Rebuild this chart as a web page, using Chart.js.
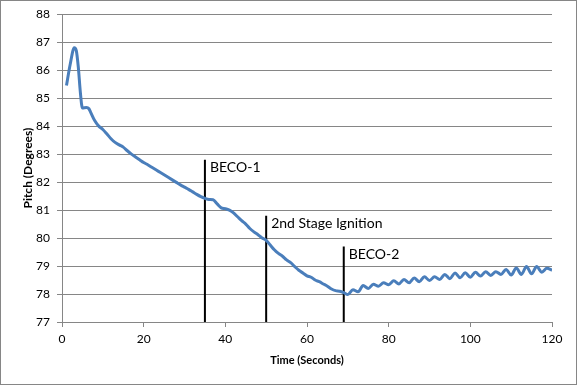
<!DOCTYPE html>
<html>
<head>
<meta charset="utf-8">
<script src="https://cdn.jsdelivr.net/npm/chart.js@4"></script>
<style>
    html, body { margin: 0; padding: 0; background: #fff; }
    #wrap { position: absolute; left: 0; top: 0; width: 577px; height: 385px; }
</style>
</head>
<body>
<div id="wrap"><canvas id="chart" width="577" height="385"></canvas></div>
<script>
// pitch trace (seconds, degrees)
const timeSec = [1.1, 2, 3, 3.5, 4, 4.5, 5, 6, 6.6, 7, 8, 9, 10, 11, 12, 13, 14, 15, 16, 17, 18, 19, 20,
    21, 22, 23, 24, 25, 26, 27, 28, 29, 30, 31, 32, 33, 34, 35, 36, 37, 38, 39, 40, 41, 42, 43, 44, 45,
    46, 47, 48, 49, 50, 51, 52, 53, 54, 55, 56, 57, 58, 59, 60, 61, 62, 63, 64, 65, 66, 67, 68, 69, 70,
    71.25, 72.5, 73.75, 75, 76.25, 77.5, 78.75, 80, 81.25, 82.5, 83.75, 85, 86.25, 87.5, 88.75, 90,
    91.25, 92.5, 93.75, 95, 96.25, 97.5, 98.75, 100, 101.25, 102.5, 103.75, 105, 106.25, 107.5, 108.75,
    110, 111.25, 112.5, 113.75, 115, 116.25, 117.5, 118.75, 120];
const pitchDeg = [85.45, 86.2, 86.8, 86.7, 86.1, 85.2, 84.65, 84.67, 84.62, 84.5, 84.2, 84.0, 83.88,
    83.72, 83.55, 83.42, 83.33, 83.25, 83.12, 83.0, 82.9, 82.8, 82.7, 82.62, 82.53, 82.44, 82.35, 82.26,
    82.17, 82.08, 81.99, 81.9, 81.82, 81.74, 81.65, 81.56, 81.48, 81.42, 81.38, 81.37, 81.22, 81.08,
    81.05, 81.0, 80.9, 80.76, 80.62, 80.5, 80.34, 80.22, 80.12, 80.0, 79.92, 79.75, 79.58, 79.45, 79.35,
    79.22, 79.12, 78.98, 78.85, 78.75, 78.65, 78.6, 78.5, 78.44, 78.36, 78.28, 78.18, 78.12, 78.1, 78.05,
    77.98, 78.15, 78.08, 78.3, 78.2, 78.35, 78.28, 78.4, 78.33, 78.47, 78.36, 78.52, 78.4, 78.57, 78.44,
    78.62, 78.48, 78.62, 78.52, 78.7, 78.55, 78.75, 78.58, 78.76, 78.6, 78.78, 78.64, 78.8, 78.66, 78.8,
    78.7, 78.88, 78.68, 78.93, 78.7, 78.98, 78.72, 78.98, 78.78, 78.92, 78.85];

// event markers
const eventNames = ['BECO-1', '2nd Stage Ignition', 'BECO-2'];
const eventTimes = [35, 50, 69];
const eventTops = [82.8, 80.8, 79.7];

const xTicks = [0, 20, 40, 60, 80, 100, 120];
const yTicks = [77, 78, 79, 80, 81, 82, 83, 84, 85, 86, 87, 88];

const FONT = 'Lato, "Liberation Sans", sans-serif';

const pitchPoints = timeSec.map((t, i) => ({ x: t, y: pitchDeg[i] }));

const markerSets = eventTimes.map((t, i) => ({
    label: eventNames[i],
    data: [{ x: t, y: yTicks[0] }, { x: t, y: eventTops[i] }],
    borderColor: '#000',
    borderWidth: 2,
    pointRadius: 0,
    tension: 0
}));

const eventLabels = {
    id: 'eventLabels',
    afterDatasetsDraw(chart) {
        const ctx = chart.ctx;
        const xs = chart.scales.x, ys = chart.scales.y;
        ctx.save();
        ctx.font = '14px ' + FONT;
        ctx.fillStyle = '#000';
        ctx.textBaseline = 'top';
        ctx.textAlign = 'left';
        eventNames.forEach((name, i) => {
            ctx.fillText(name, xs.getPixelForValue(eventTimes[i]) + 5, ys.getPixelForValue(eventTops[i]) + 1);
        });
        ctx.restore();
    }
};

const outerBorder = {
    id: 'outerBorder',
    afterDraw(chart) {
        const ctx = chart.ctx;
        ctx.save();
        ctx.strokeStyle = '#868686';
        ctx.lineWidth = 1;
        ctx.strokeRect(0.5, 0.5, chart.width - 1, chart.height - 1);
        ctx.restore();
    }
};

new Chart(document.getElementById('chart'), {
    type: 'line',
    data: {
        datasets: [{
            label: 'Pitch',
            data: pitchPoints,
            borderColor: '#4a7ebb',
            borderWidth: 3,
            pointRadius: 0,
            tension: 0.4,
            cubicInterpolationMode: 'monotone'
        }].concat(markerSets)
    },
    options: {
        responsive: false,
        animation: false,
        layout: { padding: { top: 14, right: 25, left: 0, bottom: 0 } },
        plugins: { legend: { display: false }, tooltip: { enabled: false } },
        scales: {
            x: {
                type: 'linear',
                min: 0, max: 120,
                afterBuildTicks: s => { s.ticks = xTicks.map(v => ({ value: v })); },
                afterFit: s => { s.height = 63; },
                grid: { drawOnChartArea: false, drawTicks: true, tickLength: 5, color: '#868686' },
                border: { color: '#868686' },
                ticks: { color: '#000', padding: 5, font: { family: FONT, size: 12 }, maxRotation: 0 },
                title: { display: true, text: 'Time (Seconds)', color: '#000',
                    font: { family: FONT, size: 11, weight: 'bold' }, padding: { top: 0, bottom: 18 } }
            },
            y: {
                min: 77, max: 88,
                afterBuildTicks: s => { s.ticks = yTicks.map(v => ({ value: v })); },
                afterFit: s => { s.width = 62; },
                grid: { color: '#868686', tickLength: 5 },
                border: { color: '#868686' },
                ticks: { color: '#000', padding: 7, font: { family: FONT, size: 12 } },
                title: { display: true, text: 'Pitch (Degrees)', color: '#000',
                    font: { family: FONT, size: 12, weight: 'bold' }, padding: { top: 21, bottom: 0 } }
            }
        }
    },
    plugins: [eventLabels, outerBorder]
});
</script>
</body>
</html>
